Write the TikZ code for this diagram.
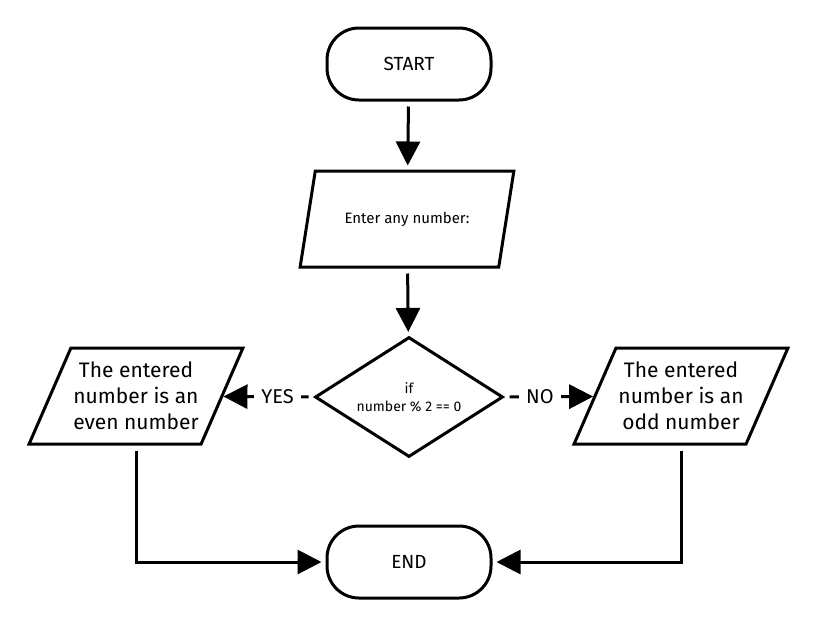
\documentclass[tikz,border=0pt]{standalone}
\usepackage{fontspec}
\setmainfont{Fira Sans}
\usetikzlibrary{shapes.geometric,arrows.meta}
\tikzset{
	term/.style={draw, line width=1.5pt, rounded corners=16pt, minimum width=82pt, minimum height=36pt, font=\fontsize{9.5}{11}\selectfont},
	io/.style={draw, line width=1.5pt, trapezium, trapezium left angle=60, trapezium right angle=120, trapezium stretches=true, minimum width=107pt, minimum height=48pt, align=center, inner sep=1pt},
	decide/.style={draw, line width=1.5pt, diamond, minimum width=94pt, minimum height=60pt, aspect=1.6, inner sep=0pt, align=center, font=\fontsize{7}{9}\selectfont},
	arr/.style={line width=1.5pt, -{Triangle[width=12pt,length=12pt]}, shorten <=2.5pt, shorten >=2pt},
	lbl/.style={fill=white, font=\fontsize{10}{12}\selectfont, inner sep=3.5pt}
}
\begin{document}
\begin{tikzpicture}[x=0.5pt,y=-0.5pt]
	\useasboundingbox (0,0) rectangle (817,627);
	%
	% terminals
	\node[term] (start) at (409,64) {START};
	\node[term] (stop) at (409,562) {END};
	% input and decision
	\node[io, font=\fontsize{7.5}{9}\selectfont] (input) at (407,219) {Enter any number:};
	\node[decide] (dec) at (409,397) {if\\number \% 2 == 0};
	% outputs
	\node[io, font=\fontsize{10.5}{13}\selectfont] (even) at (136,396) {The entered\\number is an\\even number};
	\node[io, font=\fontsize{10.5}{13}\selectfont] (odd) at (681,396) {The entered\\number is an\\odd number};
	%
	\draw[arr] (start) -- (input);
	\draw[arr] (input) -- (dec);
	\draw[arr, shorten >=0pt] (dec.west) -- node[lbl, pos=0.4] {YES} (even);
	\draw[arr, shorten >=0pt] (dec.east) -- node[lbl, pos=0.4] {NO} (odd);
	%
	\draw[arr] (even.center |- even.south) |- (stop.west);
	\draw[arr] (odd.center |- odd.south) |- (stop.east);
\end{tikzpicture}
\end{document}
